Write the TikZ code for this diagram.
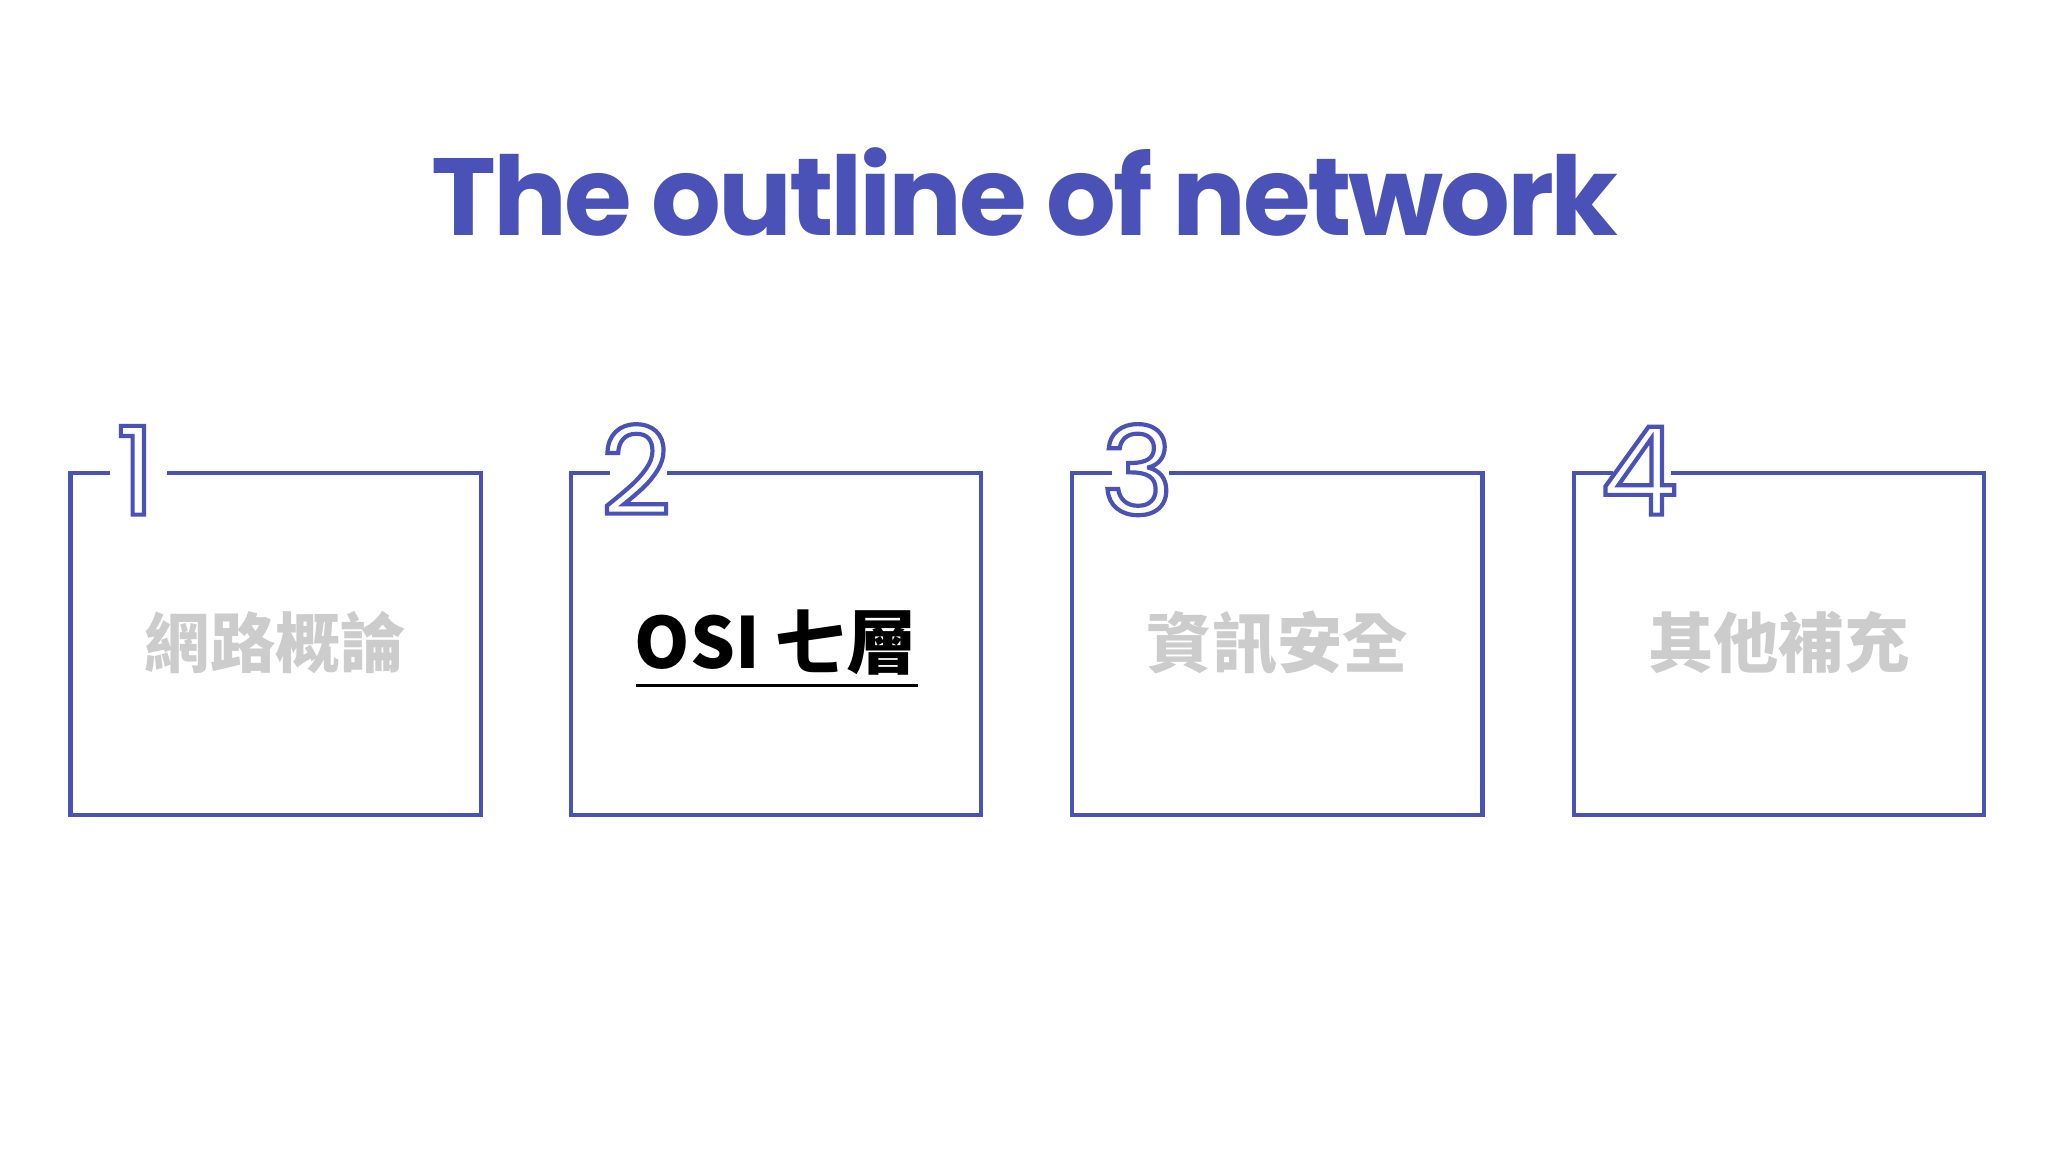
\documentclass[tikz,border=0pt]{standalone}
\usepackage{fontspec}
\setmainfont{Poppins}
\newfontfamily\titlefont{Poppins}[LetterSpace=-3]
\newfontfamily\cjk{Noto Sans CJK TC}
\definecolor{nblue}{HTML}{4A52B8}
\definecolor{ngray}{HTML}{CCCCCC}
\newcommand\outl[1]{\special{pdf:literal direct 1 Tr 1.6 w}#1\special{pdf:literal direct 0 Tr}}
\begin{document}
\begin{tikzpicture}[x=0.5pt,y=-0.5pt,
  frame/.style={draw=nblue,line width=1.6pt},
  num/.style={text=nblue,font=\fontsize{47}{47}\selectfont,inner sep=0pt,anchor=base},
  lab/.style={font=\cjk\fontsize{25}{25}\selectfont\bfseries,text=ngray}]
\useasboundingbox (0,0) rectangle (1568,882);
\node[text=nblue,font=\titlefont\fontsize{42}{42}\selectfont\bfseries,anchor=base] (title) at (785,180) {The outline of network};
\foreach \x/\n/\t [count=\i] in {54/1/網路概論,437/2/{},821/3/資訊安全,1205/4/其他補充}{
  \draw[frame] (\x+30,362) -- (\x,362) -- (\x,624) -- (\x+314,624) -- (\x+314,362) -- (\x+74,362);
  \node[num] (n\i) at (\x+50,394) {\outl{\n}};
  \node[lab] (l\i) at (\x+157,492) {\t};
}
\node[font=\cjk\fontsize{27}{27}\selectfont\bfseries,inner sep=0pt] (osi) at (594,492) {OSI 七層};
\draw[line width=1.3pt] (487,525) -- (703,525);
\end{tikzpicture}
\end{document}
